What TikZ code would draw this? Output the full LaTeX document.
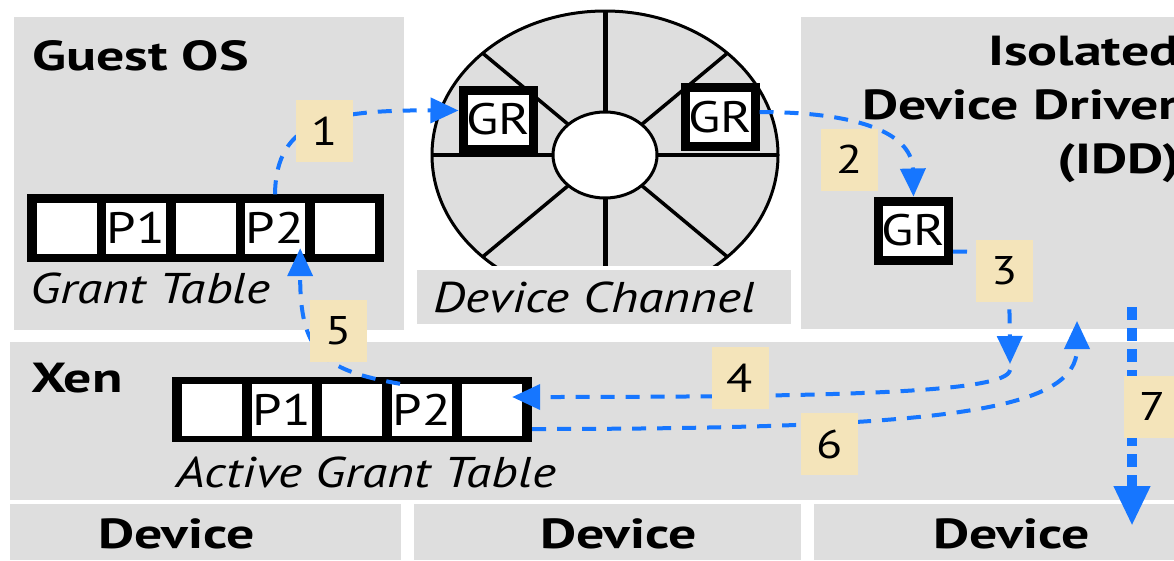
\documentclass[tikz,border=0pt]{standalone}
\usepackage{fontspec}
\setmainfont{PT Sans}[FakeStretch=1.2]
\newfontfamily\headfont{PT Sans}[FakeStretch=1.33]
\usepackage{tikz}
\usetikzlibrary{shapes,arrows.meta,positioning}

\definecolor{panelgray}{RGB}{222,222,222}
\definecolor{flowblue}{RGB}{22,118,255}
\definecolor{stepbeige}{RGB}{244,228,186}

\tikzstyle{panel} = [fill=panelgray]
\tikzstyle{title} = [font=\fontsize{42}{46}\headfont\bfseries, inner sep=0pt, anchor=base west]
\tikzstyle{caption} = [font=\fontsize{43}{47}\selectfont\itshape, inner sep=0pt, anchor=base west]
\tikzstyle{tab} = [fill=black, inner sep=0pt]
\tikzstyle{cell} = [fill=white, inner sep=0pt, minimum width=60pt, minimum height=51pt, font=\fontsize{44}{48}\selectfont]
\tikzstyle{grbox} = [draw, line width=9pt, fill=white, inner sep=0pt, minimum width=70pt, minimum height=59pt, font=\fontsize{44}{48}\selectfont]
\tikzstyle{num} = [fill=stepbeige, inner sep=0pt, minimum width=57pt, minimum height=62pt, font=\fontsize{40}{44}\selectfont]
\tikzstyle{spoke} = [draw, line width=3.5pt]
\tikzstyle{flow} = [draw=flowblue, line width=4pt, dash pattern=on 14pt off 11pt, -{Triangle[length=28pt, width=25pt]}]
\tikzstyle{bigflow} = [draw=flowblue, line width=10pt, dash pattern=on 13pt off 8pt, -{Triangle[length=40pt, width=34pt]}]

\begin{document}
\begin{tikzpicture}[x=1pt, y=-1pt]
\useasboundingbox (0,0) rectangle (1174,560);

% domains
\fill[panel] (14,17) rectangle (404,330);
\fill[panel] (801,17) rectangle (1174,329);
\fill[panel] (10,342) rectangle (1174,500);
\fill[panel] (10,504) rectangle (401,560);
\fill[panel] (414,504) rectangle (801,560);
\fill[panel] (814,504) rectangle (1174,560);

\node [title] (guest) at (32,70) {Guest OS};
\node [title] (isolated) at (988,65) {Isolated};
\node [title] (driver) at (862,119) {Device Driver};
\node [title] (idd) at (1057,173) {(IDD)};
\node [title] (xen) at (31,392) {Xen};
\node [title] (dev1) at (98,548) {Device};
\node [title] (dev2) at (540,548) {Device};
\node [title] (dev3) at (933,548) {Device};

% device channel ring
\draw [line width=3pt, fill=panelgray] (605,155) ellipse [x radius=173pt, y radius=144pt];
\path [spoke] (605,155) -- (778,155);
\path [spoke] (605,155) -- (727.3,53.2);
\path [spoke, line width=5pt] (605,155) -- (605,11);
\path [spoke] (605,155) -- (482.7,53.2);
\path [spoke] (605,155) -- (432,155);
\path [spoke] (605,155) -- (482.7,256.8);
\path [spoke, line width=5pt] (605,155) -- (605,299);
\path [spoke] (605,155) -- (727.3,256.8);
\draw [line width=3pt, fill=white] (605,155) ellipse [x radius=52pt, y radius=43pt];
\fill[white] (417,266) rectangle (791,270);
\fill[panel] (417,270) rectangle (791,324);
\node [caption] (chan) at (433,312) {Device Channel};

% grant table of the guest
\node [tab, minimum width=357pt, minimum height=68pt] (gtab) at (205.5,228) {};
\node [cell] (g1) at (66.5,228) {};
\node [cell] (g2) at (136,228) {P1};
\node [cell] (g3) at (205.5,228) {};
\node [cell] (g4) at (275,228) {P2};
\node [cell] (g5) at (344.5,228) {};
\node [caption] (gcap) at (30,303) {Grant Table};

% active grant table in xen
\node [tab, minimum width=360pt, minimum height=65pt] (atab) at (352,409.5) {};
\node [cell, minimum height=52pt] (a1) at (212,410) {};
\node [cell, minimum height=52pt] (a2) at (282,410) {P1};
\node [cell, minimum height=52pt] (a3) at (352,410) {};
\node [cell, minimum height=52pt] (a4) at (422,410) {P2};
\node [cell, minimum height=52pt] (a5) at (492,410) {};
\node [caption] (acap) at (176,487) {Active Grant Table};

% grant references
\node [grbox] (grl) at (498,119.5) {GR};
\node [grbox] (grr) at (720,117) {GR};
\node [grbox] (gri) at (913.5,230.5) {GR};

% free ends
\coordinate (t3) at (1010,364);
\coordinate (s4) at (1010,370);
\coordinate (t6) at (1077,321);
\coordinate (s7) at (1132,307);
\coordinate (t7) at (1132,526);

% steps
\draw [flow] ([yshift=8pt]g4.north) .. controls (276,120) and (330,110) .. ([yshift=9pt]grl.west);
\draw [flow] ([yshift=5pt]grr.east) .. controls (850,112) and (912,130) .. (gri.north);
\draw [flow] ([yshift=-21pt]gri.east) .. controls (1009,252) .. (t3);
\draw [flow] (s4) .. controls (1007,392) and (850,397) .. ([xshift=-10pt, yshift=13pt]a5.east);
\draw [flow] ([xshift=-22pt]a4.north) .. controls (320,370) and (300,350) .. ([xshift=-5pt, yshift=5.5pt]g4.south east);
\draw [flow] ([yshift=-19.5pt]atab.east) .. controls (950,429) and (1077,410) .. (t6);
\draw [bigflow] (s7) -- (t7);

\node [num] (n1) at (324.5,131) {1};
\node [num] (n2) at (849.5,159.5) {2};
\node [num] (n3) at (1004.5,270.5) {3};
\node [num] (n4) at (740,378) {4};
\node [num] (n5) at (338.5,330.5) {5};
\node [num] (n6) at (829.5,444) {6};
\node [num] (n7) at (1152.5,406.5) {7};
\end{tikzpicture}
\end{document}
